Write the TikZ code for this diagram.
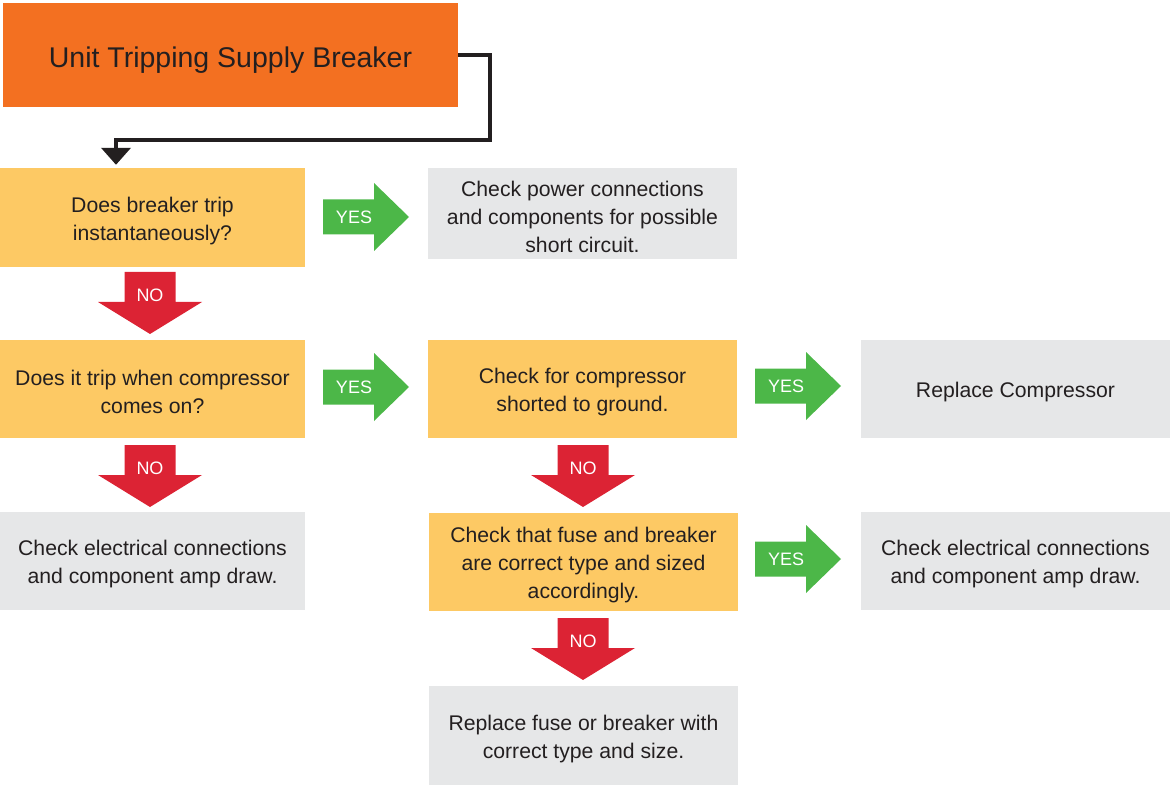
\documentclass[tikz,border=0pt]{standalone}
\usepackage{fontspec}
\setmainfont{Liberation Sans}
\usetikzlibrary{arrows.meta}
\definecolor{startorange}{HTML}{F37021}
\definecolor{askyellow}{HTML}{FDC964}
\definecolor{tipgray}{HTML}{E6E7E8}
\definecolor{yesgreen}{HTML}{4CB748}
\definecolor{nored}{HTML}{DC2334}
\definecolor{ink}{HTML}{231F20}
% taller first line sets the text a little lower in its box
\newcommand\lift[1]{\rule{0pt}{#1}}
\tikzset{
  box/.style={inner sep=0pt,align=center,text=ink,font=\fontsize{21.2}{28}\selectfont},
  askbox/.style={box,fill=askyellow},
  tipbox/.style={box,fill=tipgray},
  tag/.style={inner sep=0pt,text=white,font=\fontsize{18}{20}\selectfont},
  yesarrow/.pic={
    \fill[yesgreen] (-31,-17.5) -- (20,-17.5) -- (20,-34) -- (55,0)
      -- (20,34) -- (20,17.5) -- (-31,17.5) -- cycle;
    \node[tag] (txt) at (0,0) {YES};
  },
  noarrow/.pic={
    \fill[nored] (-25.5,-23) -- (25.5,-23) -- (25.5,7) -- (52,7)
      -- (0,39) -- (-52,7) -- (-25.5,7) -- cycle;
    \node[tag] (txt) at (0,0) {NO};
  },
}

\begin{document}
\begin{tikzpicture}[x=1pt,y=-1pt]
  \useasboundingbox (0,0) rectangle (1170,786);
  % start
  \node[box,fill=startorange,minimum width=455pt,minimum height=104pt,
    font=\fontsize{28.5}{30}\selectfont]
    (start) at (230.5,55) {\lift{30pt}Unit Tripping Supply Breaker};
  % questions
  \node[askbox,minimum width=305pt,minimum height=99pt] (q1) at (152.5,217.5)
    {\lift{21.5pt}Does breaker trip\\instantaneously?};
  \node[askbox,minimum width=305pt,minimum height=98pt] (q2) at (152.5,389)
    {\lift{21.5pt}Does it trip when compressor\\comes on?};
  \node[askbox,minimum width=309pt,minimum height=98pt] (q3) at (582.5,389)
    {\lift{21.5pt}Check for compressor\\shorted to ground.};
  \node[askbox,minimum width=309pt,minimum height=98pt] (q4) at (583.5,562)
    {\lift{21.5pt}Check that fuse and breaker\\are correct type and sized\\accordingly.};
  % answers
  \node[tipbox,minimum width=309pt,minimum height=91pt] (a1) at (582.5,213.5)
    {\lift{21.5pt}Check power connections\\and components for possible\\short circuit.};
  \node[tipbox,minimum width=305pt,minimum height=98pt] (a2) at (152.5,561)
    {\lift{21.5pt}Check electrical connections\\and component amp draw.};
  \node[tipbox,minimum width=309pt,minimum height=98pt] (a3) at (1015.5,389)
    {\lift{21.5pt}Replace Compressor};
  \node[tipbox,minimum width=309pt,minimum height=98pt] (a4) at (1015.5,561)
    {\lift{21.5pt}Check electrical connections\\and component amp draw.};
  \node[tipbox,minimum width=309pt,minimum height=99pt] (a5) at (583.5,735.5)
    {\lift{21.5pt}Replace fuse or breaker with\\correct type and size.};
  % entry line
  \coordinate (bend) at ([xshift=-36.5pt,yshift=28pt]q1.north);
  \draw[ink,line width=4pt,miter limit=4,-{Triangle[width=29pt,length=17pt]}]
    (start.east) -- ++(32,0) |- (bend) -- ([yshift=3pt]q1.north -| bend);
  % yes / no arrows
  \pic (yes1) at (354,217) {yesarrow};
  \pic (yes2) at (354,387) {yesarrow};
  \pic (yes3) at (786,386) {yesarrow};
  \pic (yes4) at (786,559) {yesarrow};
  \pic (no1) at (150,295) {noarrow};
  \pic (no2) at (150,468) {noarrow};
  \pic (no3) at (583,468) {noarrow};
  \pic (no4) at (583,641) {noarrow};
\end{tikzpicture}
\end{document}
